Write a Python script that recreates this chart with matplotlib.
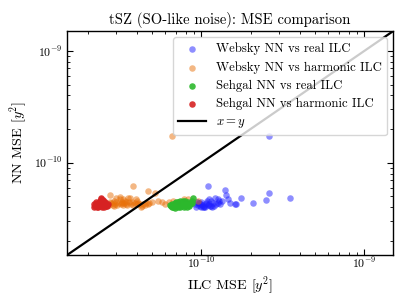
import matplotlib
matplotlib.use("Agg")
import matplotlib.pyplot as plt
import numpy as np

plt.rcParams['font.family'] = ['cmr10', 'DejaVu Serif']
plt.rcParams['mathtext.fontset'] = 'cm'
plt.rcParams['axes.formatter.use_mathtext'] = True

SCALE = 1e-11

# Websky NN vs real ILC (x = ILC MSE, y = NN MSE), units of 1e-11
web_real_x = [9.2, 9.5, 9.8, 10.0, 10.3, 10.6, 10.9, 11.2, 11.5, 11.8, 12.2, 12.6, 13.0,
              9.4, 9.6, 10.2, 10.8, 11.4, 12.0, 9.1, 10.5, 11.1, 12.8, 13.3, 11.0, 13.9, 14.2, 14.6,
              14.9, 16.0, 17.6, 16.3, 20.6, 24.8, 25.9, 34.9, 26.0, 12.1, 12.7, 10.0, 9.4, 9.9,
              10.4, 11.6, 10.1, 10.7, 11.3, 9.7]
web_real_y = [4.0, 4.2, 4.1, 4.3, 4.15, 4.4, 4.2, 4.3, 4.1, 4.4, 4.25, 4.4, 4.3,
              4.5, 4.4, 4.05, 4.55, 4.6, 4.1, 4.3, 4.0, 4.7, 4.55, 4.6, 6.2, 5.7, 5.15, 4.7,
              4.4, 4.25, 4.88, 4.3, 4.37, 4.65, 5.33, 4.81, 17.5, 4.8, 4.7, 4.5, 4.45, 4.0,
              4.05, 4.05, 4.2, 4.3, 4.15, 4.35]

# Websky NN vs harmonic ILC
web_harm_x = [2.6, 2.7, 2.75, 2.8, 2.85, 2.9, 2.95, 3.0, 3.05, 3.1, 3.15, 3.2, 3.25, 3.3, 3.35, 3.4,
              3.45, 3.5, 3.6, 3.7, 3.8, 3.9, 4.0, 4.1, 4.2, 4.3, 4.4, 4.5, 4.6, 4.7, 4.8, 2.73,
              5.0, 5.4, 5.7, 6.0, 6.3, 6.7, 7.2, 7.8, 8.3, 9.5, 3.8, 4.7, 5.19, 6.57,
              3.0, 3.3, 3.55, 3.95, 2.9, 4.25, 3.15, 3.65, 3.25, 3.75, 4.05, 2.85, 3.45]
web_harm_y = [4.3, 4.2, 4.5, 4.4, 4.2, 4.6, 4.3, 4.5, 4.2, 4.4, 4.7, 4.3, 4.5, 4.2, 4.4, 4.6,
              4.3, 4.2, 4.45, 4.3, 4.2, 4.35, 4.25, 4.4, 4.3, 4.15, 4.3, 4.2, 4.35, 4.25, 4.4, 5.2,
              4.5, 4.55, 4.5, 4.3, 4.45, 4.6, 4.5, 4.7, 4.7, 4.55, 6.2, 5.58, 5.33, 17.5,
              4.8, 4.75, 4.85, 4.7, 4.1, 4.05, 4.9, 4.8, 4.35, 4.5, 4.55, 4.35, 4.5]

# Sehgal NN vs real ILC
seh_real_x = [6.4, 6.5, 6.6, 6.7, 6.8, 6.9, 7.0, 7.1, 7.2, 7.3, 7.4, 7.5, 7.6, 7.7, 7.8, 7.9,
              8.0, 8.1, 8.2, 8.3, 8.5, 8.7, 8.9, 6.6, 6.9, 7.2, 7.5, 7.8, 8.1, 8.4, 7.0, 7.35,
              7.65, 7.95, 8.8]
seh_real_y = [4.2, 4.1, 4.3, 4.0, 4.2, 4.4, 4.1, 4.3, 4.5, 4.2, 4.0, 4.4, 4.2, 4.6, 4.3, 4.1,
              4.4, 4.2, 4.3, 4.5, 4.3, 4.4, 4.8, 4.0, 3.95, 4.05, 4.1, 4.0, 4.05, 4.1, 4.5, 4.55,
              4.45, 4.6, 4.6]

# Sehgal NN vs harmonic ILC
seh_harm_x = [2.18, 2.22, 2.25, 2.28, 2.30, 2.33, 2.35, 2.38, 2.40, 2.42, 2.45, 2.48, 2.50, 2.53,
              2.55, 2.58, 2.60, 2.63, 2.66, 2.20, 2.26, 2.32, 2.37, 2.43, 2.47, 2.52, 2.57, 2.62,
              2.24, 2.36, 2.41, 2.44, 2.49, 2.54]
seh_harm_y = [4.25, 4.1, 4.3, 4.05, 4.2, 4.4, 4.15, 4.35, 4.6, 4.75, 4.5, 4.3, 4.55, 4.2,
              4.4, 4.1, 4.3, 4.2, 4.25, 4.0, 4.45, 4.0, 4.6, 4.1, 4.0, 4.35, 4.5, 4.1,
              4.3, 4.2, 4.8, 4.45, 4.65, 4.05]

lims = [1.5e-11, 1.5e-9]
major_ticks = [1e-10, 1e-9]

fig = plt.figure(figsize=(4.07, 3.05), dpi=100)
ax = fig.add_axes([0.165, 0.164, 0.801, 0.734])

ms = 22
ax.scatter(np.array(web_real_x) * SCALE, np.array(web_real_y) * SCALE, s=ms, color='#1f1fff',
           alpha=0.5, lw=0, label='Websky NN vs real ILC')
ax.scatter(np.array(web_harm_x) * SCALE, np.array(web_harm_y) * SCALE, s=ms, color='#e8710a',
           alpha=0.5, lw=0, label='Websky NN vs harmonic ILC')
ax.scatter(np.array(seh_real_x) * SCALE, np.array(seh_real_y) * SCALE, s=ms, color='#2cb82c',
           alpha=0.9, lw=0, label='Sehgal NN vs real ILC')
ax.scatter(np.array(seh_harm_x) * SCALE, np.array(seh_harm_y) * SCALE, s=ms, color='#d62222',
           alpha=0.9, lw=0, label='Sehgal NN vs harmonic ILC')
ax.plot(lims, lims, color='black', lw=1.6, label='$x = y$')

ax.set_xscale('log')
ax.set_yscale('log')
ax.set_xticks(major_ticks)
ax.set_yticks(major_ticks)
ax.set_xlim(lims)
ax.set_ylim(lims)
ax.tick_params(which='both', direction='in', top=True, right=True, labelsize=8.5, pad=3)
ax.tick_params(axis='x', pad=1)
ax.tick_params(which='major', length=4)
ax.tick_params(which='minor', length=2)
for sp in ax.spines.values():
    sp.set_linewidth(1.0)

ax.set_xlabel('ILC MSE [$y^2$]', fontsize=10.2, labelpad=2)
ax.set_ylabel('NN MSE [$y^2$]', fontsize=10.2, labelpad=3)
ax.set_title('tSZ (SO-like noise): MSE comparison', fontsize=10.6, pad=5)
ax.legend(loc='upper right', fontsize=9.2, handlelength=2.15, labelspacing=0.47)

fig.savefig('out.png', dpi=100)
